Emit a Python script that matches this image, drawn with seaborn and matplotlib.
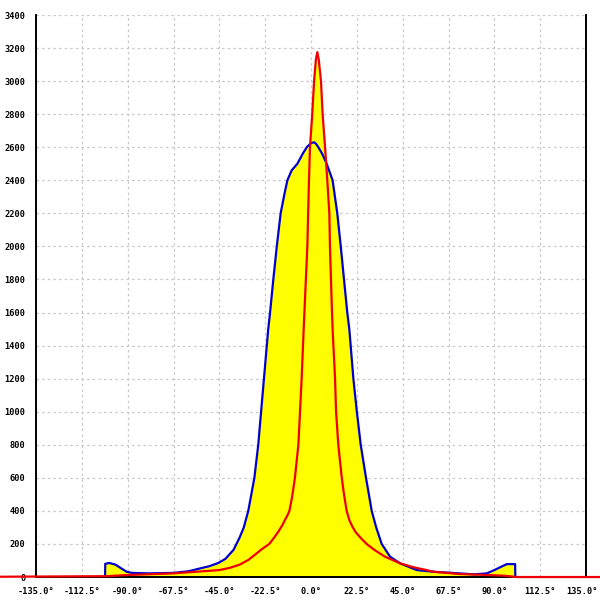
import matplotlib
matplotlib.use('Agg')
import matplotlib.pyplot as plt
import matplotlib.transforms as mtransforms
import seaborn as sns
import numpy as np
import pandas as pd

# angle (deg) vs count
blue_angles = [-101.1, -101.0, -99.0, -96.0, -93.5, -90.5, -88.0, -80.0, -67.5, -60.0,
               -54.5, -50.0, -45.5, -42.0, -38.0, -35.0, -33.0, -30.8, -27.8, -25.9,
               -24.5, -23.1, -21.0, -20.1, -18.5, -16.8, -14.9, -13.0, -11.6, -9.5,
               -6.7, -4.1, -2.1, 0.0, 1.5, 2.5, 3.6, 5.5, 7.7, 10.6,
               12.9, 14.6, 16.2, 17.8, 18.8, 20.8, 22.5, 24.4, 27.0, 29.8,
               32.0, 34.7, 38.8, 43.7, 51.9, 60.0, 73.0, 80.0, 86.3, 90.0,
               93.0, 96.1, 99.3, 100.2, 100.3]
blue_counts = [0, 80, 85, 75, 55, 32, 25, 22, 25, 35,
               52, 65, 85, 110, 165, 240, 300, 400, 600, 800,
               1000, 1200, 1500, 1600, 1800, 2000, 2200, 2320, 2400, 2460,
               2500, 2560, 2600, 2625, 2630, 2620, 2600, 2560, 2500, 2400,
               2200, 2000, 1800, 1600, 1500, 1200, 1000, 800, 600, 400,
               300, 200, 123, 83, 42, 32, 22, 16, 22, 42,
               60, 78, 78, 78, 0]

red_angles = [-180.0, -101.0, -90.0, -67.5, -45.0, -40.0, -35.0, -30.8, -27.0, -24.0,
              -20.5, -18.0, -16.0, -14.0, -12.8, -11.5, -10.6, -9.5, -8.6, -7.9,
              -6.2, -5.4, -4.6, -3.6, -2.7, -1.8, -1.4, -1.0, -0.5, 0.6,
              1.5, 2.4, 3.1, 3.8, 4.9, 5.7, 6.9, 8.0, 9.0, 9.3,
              9.8, 10.3, 10.6, 11.8, 12.3, 13.4, 15.1, 16.2, 17.5, 18.8,
              20.3, 22.0, 24.5, 27.3, 31.0, 36.3, 43.7, 50.0, 56.8, 60.0,
              73.0, 87.0, 95.0, 101.0, 180.0]
red_counts = [0, 5, 12, 22, 42, 55, 75, 103, 140, 170,
              200, 240, 275, 315, 345, 375, 400, 470, 540, 600,
              800, 1000, 1200, 1500, 1750, 2000, 2200, 2400, 2600, 2800,
              3000, 3130, 3175, 3130, 3000, 2800, 2600, 2400, 2200, 2000,
              1800, 1600, 1500, 1200, 1000, 800, 600, 500, 400, 345,
              305, 270, 235, 200, 165, 123, 83, 60, 42, 32,
              18, 12, 8, 0, 0]

x_ticks = np.arange(-135, 135.1, 22.5)
y_ticks = np.arange(0, 3401, 200)

sns.set_style('white')
plt.rcParams['font.family'] = ['DejaVu Sans Mono', 'DejaVu Sans']

blue_df = pd.DataFrame({'angle': blue_angles, 'count': blue_counts})
red_df = pd.DataFrame({'angle': red_angles, 'count': red_counts})

fig = plt.figure(figsize=(6, 6), dpi=100)
ax = fig.add_axes([0.06, 0.0383, 0.9167, 0.9367])

# yellow areas under both curves
ax.fill_between(blue_df['angle'], 0, blue_df['count'], color='#ffff00', linewidth=0, zorder=1)
ax.fill_between(red_df['angle'], 0, red_df['count'], color='#ffff00', linewidth=0, zorder=1)

sns.lineplot(data=blue_df, x='angle', y='count', sort=False, color='#0000d0',
             linewidth=1.6, ax=ax, zorder=3)
sns.lineplot(data=red_df, x='angle', y='count', sort=False, color='#ee0000',
             linewidth=1.6, ax=ax, zorder=4)
ax.lines[-1].set_clip_on(False)

ax.set_xlim(-135, 135)
ax.set_ylim(0, 3400)
ax.set_xticks(x_ticks)
ax.set_xticklabels([f'{v:.1f}\u00b0' for v in x_ticks])
ax.set_yticks(y_ticks)
ax.set_yticklabels([str(v) for v in y_ticks])
ax.set_xlabel('')
ax.set_ylabel('')

ax.grid(True, color='#c8c8c8', linestyle=(0, (2, 2.5)), linewidth=0.9, zorder=0)
ax.set_axisbelow(True)

ax.spines['top'].set_visible(False)
for side in ['left', 'right', 'bottom']:
    ax.spines[side].set_color('black')
    ax.spines[side].set_linewidth(1.4)

ax.tick_params(axis='both', direction='inout', length=9, width=1.2, colors='black',
               labelsize=6.2, pad=3)
for lbl in ax.get_xticklabels() + ax.get_yticklabels():
    lbl.set_fontweight('bold')

# keep the last x label inside the picture
last = ax.get_xticklabels()[-1]
last.set_transform(last.get_transform() +
                   mtransforms.ScaledTranslation(-4 / 100, 0, fig.dpi_scale_trans))

plt.savefig('out.png', dpi=100)
plt.close()
